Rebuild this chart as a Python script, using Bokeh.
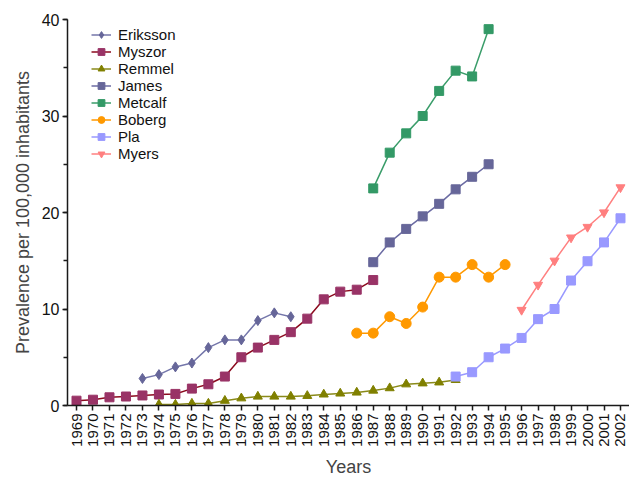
from bokeh.plotting import figure
from bokeh.models import Range1d, FixedTicker, SingleIntervalTicker, Legend, LegendItem
from bokeh.embed import file_html
from bokeh.resources import INLINE
import math

# Years on the x axis and their tick labels
years = list(range(1969, 2003))
year_labels = [str(y) for y in years]

# Prevalence per 100,000 inhabitants, by study
eriksson_years = list(range(1973, 1983))
eriksson = [2.8, 3.2, 4.0, 4.4, 6.0, 6.8, 6.8, 8.8, 9.6, 9.2]

myszor_years = list(range(1969, 1988))
myszor = [0.5, 0.6, 0.85, 0.93, 1.04, 1.14, 1.2, 1.75, 2.2, 3.0,
          5.0, 6.0, 6.8, 7.6, 9.0, 11.0, 11.8, 12.0, 13.0]

remmel_years = list(range(1974, 1993))
remmel = [0.1, 0.1, 0.2, 0.2, 0.5, 0.75, 0.93, 0.93, 0.93, 1.0,
          1.15, 1.25, 1.35, 1.55, 1.8, 2.2, 2.3, 2.4, 2.65]

james_years = list(range(1987, 1995))
james = [14.85, 16.9, 18.3, 19.6, 20.9, 22.4, 23.7, 25.0]

metcalf_years = list(range(1987, 1995))
metcalf = [22.5, 26.2, 28.2, 30.0, 32.6, 34.7, 34.1, 39.0]

boberg_years = list(range(1986, 1996))
boberg = [7.5, 7.5, 9.2, 8.5, 10.2, 13.3, 13.3, 14.6, 13.3, 14.6]

pla_years = list(range(1992, 2003))
pla = [3.0, 3.45, 5.0, 5.9, 7.0, 8.95, 10.0, 12.95, 14.95, 16.9, 19.4]

myers_years = list(range(1996, 2003))
myers = [9.9, 12.5, 15.0, 17.4, 18.5, 20.0, 22.6]

FONT = "Liberation Sans"

p = figure(width=629, height=479, output_backend="svg", toolbar_location=None,
           x_range=Range1d(1968.454, 2002.546), y_range=Range1d(0, 40),
           min_border_left=67, min_border_right=0, min_border_top=19,
           min_border_bottom=74)
p.outline_line_color = None
p.xgrid.grid_line_color = None
p.ygrid.grid_line_color = None
p.background_fill_color = "white"
p.border_fill_color = "white"

# x axis: one tick per year, labels rotated
xa = p.xaxis[0]
xa.ticker = FixedTicker(ticks=years)
xa.major_label_overrides = {y: lbl for y, lbl in zip(years, year_labels)}
xa.major_label_orientation = math.pi / 2
xa.axis_label = "Years"
xa.axis_label_text_font = FONT
xa.axis_label_text_font_size = "18px"
xa.axis_label_text_font_style = "normal"
xa.axis_label_standoff = 7
xa.major_label_text_font = FONT
xa.major_label_text_font_size = "15px"
xa.major_label_standoff = 3
xa.major_tick_out = 5
xa.major_tick_in = 0
xa.minor_tick_out = 0
xa.axis_line_width = 1.5
xa.axis_line_color = "#1a1a1a"
xa.major_tick_line_width = 1.5
xa.major_tick_line_color = "#1a1a1a"
xa.major_label_text_color = "#111111"

# y axis
ya = p.yaxis[0]
ya.ticker = SingleIntervalTicker(interval=10, num_minor_ticks=2)
ya.axis_label = "Prevalence per 100,000 inhabitants"
ya.axis_label_text_font = FONT
ya.axis_label_text_font_size = "18px"
ya.axis_label_text_font_style = "normal"
ya.axis_label_standoff = 6
ya.major_label_text_font = FONT
ya.major_label_text_font_size = "16px"
ya.major_label_standoff = 3
ya.major_tick_out = 5
ya.major_tick_in = 0
ya.minor_tick_out = 4
ya.minor_tick_in = 0
ya.axis_line_width = 1.5
ya.axis_line_color = "#1a1a1a"
ya.major_tick_line_width = 1.5
ya.minor_tick_line_width = 1.5
ya.major_tick_line_color = "#1a1a1a"
ya.minor_tick_line_color = "#1a1a1a"
ya.major_label_text_color = "#111111"

series = [
    ("Eriksson", eriksson_years, eriksson, "#7476aa", "#666699", "diamond", 10),
    ("Myszor", myszor_years, myszor, "#8b0a1e", "#993366", "square", 9),
    ("Remmel", remmel_years, remmel, "#8a8a1a", "#808000", "triangle", 9),
    ("James", james_years, james, "#6b6ba3", "#666699", "square", 9),
    ("Metcalf", metcalf_years, metcalf, "#3a9d6a", "#339966", "square", 9),
    ("Boberg", boberg_years, boberg, "#ff9900", "#ff9900", "circle", 10),
    ("Pla", pla_years, pla, "#9999ff", "#9999ff", "square", 9),
    ("Myers", myers_years, myers, "#ff8080", "#ff7f7f", "inverted_triangle", 9),
]

items = []
for name, xs, ys, lcol, mcol, marker, size in series:
    ln = p.line(xs, ys, line_color=lcol, line_width=1.5)
    sc = p.scatter(xs, ys, marker=marker, size=size, fill_color=mcol,
                   line_color=mcol, line_width=1)
    items.append(LegendItem(label=name, renderers=[ln, sc]))

legend = Legend(items=items, location=(24, 243), padding=0, margin=0, spacing=0,
                glyph_width=20, glyph_height=17, label_height=17,
                label_standoff=7, label_text_font=FONT,
                label_text_font_size="15px", label_text_color="#111111",
                border_line_color=None, background_fill_alpha=0)
p.add_layout(legend, "center")

open("out.html", "w").write(file_html(p, INLINE))
